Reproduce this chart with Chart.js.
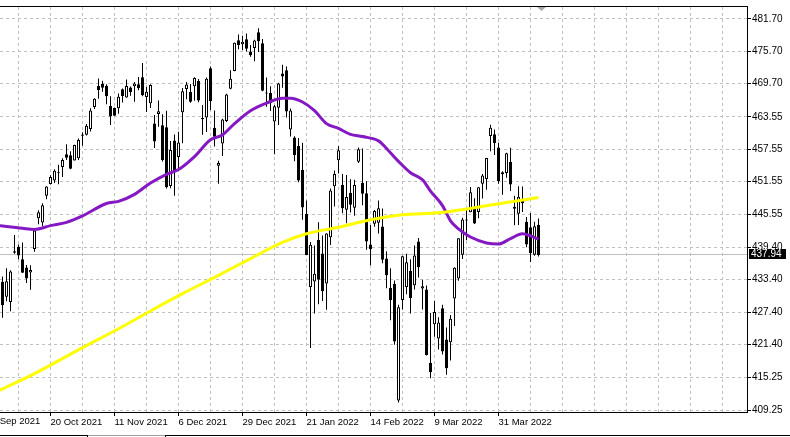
<!DOCTYPE html>
<html>
<head>
<meta charset="utf-8">
<script src="https://cdn.jsdelivr.net/npm/chart.js@4.4.1/dist/chart.umd.min.js"></script>
<style>
  html, body { margin: 0; padding: 0; background: #fff; }
  #wrap { width: 790px; height: 437px; }
</style>
</head>
<body>
<div id="wrap"><canvas id="myChart" width="790" height="437"></canvas></div>
<script>
// daily bars, 4 Oct 2021 .. 14 Apr 2022 (bar index 0..134)
var opens = [433.00,430.24,429.27,438.39,439.48,437.16,435.67,434.71,439.08,444.75,
  443.97,448.92,451.13,451.77,453.13,454.28,456.60,456.45,455.46,455.87,
  460.30,460.22,461.30,465.36,469.28,469.70,469.32,465.58,465.21,465.12,
  468.64,467.15,469.00,469.24,469.61,470.89,467.22,466.06,462.34,464.07,
  462.00,461.64,450.73,459.17,456.13,464.41,468.70,468.15,469.23,470.19,
  463.09,463.42,472.57,461.55,454.48,458.61,462.79,468.75,472.06,477.72,
  476.98,477.93,475.64,476.30,479.22,477.16,467.89,467.95,462.70,465.23,
  471.59,472.19,461.19,459.74,458.13,453.75,445.56,432.03,433.06,440.72,
  438.26,432.68,441.24,450.68,455.50,450.95,446.35,449.51,446.73,455.22,
  451.34,449.41,439.92,443.73,443.93,443.22,437.33,431.89,432.66,411.02,
  429.61,432.03,435.04,432.37,440.47,431.75,431.55,418.00,425.14,422.52,
  428.12,422.30,421.80,429.89,433.59,438.00,444.34,445.86,446.91,445.94,
  451.16,452.06,460.02,460.34,457.89,453.31,453.13,455.22,446.89,445.59,
  447.97,444.11,443.08,438.03,443.55];
var highs = [433.96,435.49,435.12,441.68,439.89,440.26,436.10,436.05,442.66,446.26,
  447.55,450.71,452.73,453.83,454.67,455.90,458.49,457.16,458.40,459.56,
  460.70,462.23,465.15,467.00,470.65,470.23,469.57,467.38,465.29,467.86,
  468.81,470.49,469.19,470.01,470.94,473.54,469.10,469.57,463.90,466.56,
  464.03,464.67,459.07,460.30,460.79,468.88,470.00,469.63,470.90,470.56,
  465.74,470.86,472.87,464.74,455.40,463.21,467.81,472.19,477.31,478.81,
  478.56,479.00,476.86,477.85,479.98,477.98,470.82,469.20,465.74,469.85,
  473.20,472.88,465.09,459.96,459.61,458.74,448.06,440.38,439.72,444.04,
  441.59,442.00,450.28,453.63,458.12,452.97,452.78,451.99,451.92,457.88,
  457.71,451.61,443.50,446.28,448.06,446.57,438.66,435.50,433.26,428.76,
  437.84,438.20,437.17,439.72,441.11,433.37,432.30,427.21,429.51,426.43,
  428.77,424.55,426.84,435.68,441.07,444.86,446.46,450.58,448.49,450.50,
  452.98,455.91,462.07,461.20,458.76,453.46,456.91,457.83,448.93,450.69,
  450.63,445.00,445.75,444.11,444.73];
var lows = [426.36,429.39,427.54,438.20,437.19,434.62,432.78,431.54,438.58,443.66,
  443.27,448.27,451.01,451.31,451.05,452.39,455.56,453.86,455.45,455.56,
  458.20,460.08,460.83,464.99,466.92,468.20,465.88,462.04,463.75,464.11,
  466.23,467.07,467.48,466.34,468.50,467.35,464.45,465.19,457.77,461.73,
  455.30,450.29,450.31,448.92,453.56,458.65,466.83,466.14,466.51,466.27,
  460.25,460.74,464.80,458.06,451.14,456.31,462.58,468.64,472.01,476.06,
  475.92,475.67,474.67,473.85,475.58,468.28,465.43,464.65,456.60,462.05,
  468.94,463.44,459.90,455.31,451.46,444.50,437.95,420.76,427.15,428.86,
  429.45,427.82,439.81,446.94,453.05,445.71,443.83,445.85,445.22,455.00,
  447.20,438.94,436.07,443.18,441.94,436.42,431.82,425.86,421.35,410.64,
  427.86,430.70,427.11,431.57,433.80,427.88,419.36,415.12,422.82,420.44,
  419.53,415.79,418.42,424.80,433.19,437.22,440.68,445.86,443.71,444.76,
  448.43,450.06,457.18,456.47,451.16,449.14,452.26,449.82,443.47,443.53,
  445.94,439.39,436.65,437.84,437.68];
var closes = [428.64,433.10,434.90,438.66,437.86,434.69,433.62,435.18,442.50,445.87,
  447.19,450.64,452.41,453.59,453.12,455.55,455.96,453.94,458.32,459.25,
  460.04,461.90,464.72,466.91,468.53,468.93,467.38,463.62,463.77,467.27,
  467.43,469.28,468.14,469.73,468.89,467.57,468.19,469.44,458.97,464.60,
  455.56,450.50,457.40,453.42,458.79,468.28,469.52,466.35,470.74,466.57,
  463.36,470.60,466.45,459.87,454.98,463.06,467.69,470.60,477.26,476.87,
  477.48,476.16,474.96,477.71,477.55,468.38,467.94,466.09,465.51,469.75,
  471.02,464.53,464.72,456.49,451.75,446.75,437.98,439.84,434.47,433.38,
  431.24,441.95,449.91,452.95,457.35,446.60,448.70,447.26,450.94,457.54,
  449.32,440.46,439.02,446.10,446.60,437.06,434.23,429.57,421.95,428.30,
  437.75,436.63,429.98,437.89,435.71,432.17,419.43,416.25,427.41,425.48,
  420.07,417.00,426.17,435.62,441.07,444.52,444.39,449.59,443.80,450.49,
  452.69,455.91,461.55,458.70,451.64,452.92,456.80,451.03,446.52,448.77,
  447.57,439.92,438.29,443.31,437.94];

// date labels on the time axis (bar index where each label sits)
var xTickBars = [-4, 12, 28, 44, 60, 76, 92, 108, 124];
var xTickLabels = ['28 Sep 2021', '20 Oct 2021', '11 Nov 2021', '6 Dec 2021', '29 Dec 2021',
  '21 Jan 2022', '14 Feb 2022', '9 Mar 2022', '31 Mar 2022'];
var yTickLabels = ['481.70', '475.70', '469.70', '463.55', '457.55', '451.55', '445.55',
  '439.40', '433.40', '427.40', '421.40', '415.25', '409.25'];

// moving averages
var fastBars = [-1, 5, 8, 12, 16, 20, 26, 29, 33, 37, 41, 44, 48, 52, 55, 58, 62, 66, 70, 72,
  75, 78, 81, 84, 87, 90, 94, 96, 99, 102, 105, 107, 110, 112, 114, 117, 121, 124, 127, 130, 132, 134];
var fastVals = [443.4, 442.9, 442.7, 443.4, 444.0, 445.2, 447.5, 447.9, 449.2, 451.3, 452.9, 453.8,
  456.2, 459.3, 460.2, 462.3, 464.7, 466.1, 467.0, 467.0, 466.3, 464.7, 462.3, 461.4, 460.3, 459.9,
  459.1, 457.7, 455.3, 453.2, 451.9, 449.8, 447.1, 444.3, 442.8, 441.3, 440.2, 440.0, 441.0, 441.9,
  441.5, 440.9];
var slowBars = [-1, 8, 20, 29, 37, 45, 54, 62, 70, 76, 84, 92, 100, 109, 117, 126, 134];
var slowVals = [412.8, 416.0, 420.8, 424.3, 427.6, 430.8, 434.2, 437.3, 440.3, 441.9, 443.1,
  444.5, 445.4, 445.8, 446.6, 447.7, 448.6];

var lastPrice = 437.94;
var xMin = -0.625, xMax = 186.125;

var wickData = [], bodyData = [], bodyColors = [];
for (var i = 0; i < opens.length; i++) {
  wickData.push({x: i, y: [lows[i], highs[i]]});
  bodyData.push({x: i, y: [opens[i], closes[i]]});
  bodyColors.push(closes[i] >= opens[i] ? '#ffffff' : '#000000');
}
var fastData = fastBars.map(function(b, k) { return {x: b, y: fastVals[k]}; });
var slowData = slowBars.map(function(b, k) { return {x: b, y: slowVals[k]}; });

// vertical grid every 8 bars, only inside the visible range
var gridBars = [];
for (var g = 4; g <= xMax; g += 8) gridBars.push(g);

var mtExtras = {
  id: 'mtExtras',
  beforeDatasetsDraw: function(chart) {
    var ctx = chart.ctx, a = chart.chartArea;
    var py = Math.round(chart.scales.y.getPixelForValue(lastPrice)) - 0.5;
    ctx.save();
    ctx.strokeStyle = '#c0c0c0';
    ctx.lineWidth = 1;
    ctx.beginPath();
    ctx.moveTo(a.left, py);
    ctx.lineTo(a.right, py);
    ctx.stroke();
    ctx.restore();
  },
  afterDraw: function(chart) {
    var ctx = chart.ctx, a = chart.chartArea, xs = chart.scales.x;
    var py = Math.round(chart.scales.y.getPixelForValue(lastPrice)) - 1;
    ctx.save();
    // frame top
    ctx.fillStyle = '#000';
    ctx.fillRect(a.left, a.top - 1, a.right - a.left + 1, 1);
    // date labels whose tick lies left of the visible range (cut at the edge)
    ctx.font = '9.5px "Liberation Sans"';
    ctx.textBaseline = 'top';
    ctx.textAlign = 'left';
    xTickBars.forEach(function(b, k) {
      if (b < xMin) ctx.fillText(xTickLabels[k], xs.getPixelForValue(b), a.bottom + 5);
    });
    // last price label
    ctx.fillRect(a.right + 2, py - 5, 37, 10);
    ctx.fillStyle = '#fff';
    ctx.font = '10px "Liberation Sans"';
    ctx.textBaseline = 'middle';
    ctx.fillText(lastPrice.toFixed(2), a.right + 4, py + 0.5);
    // chart shift marker
    ctx.fillStyle = '#a8a8a8';
    ctx.beginPath();
    ctx.moveTo(537, a.top);
    ctx.lineTo(546, a.top);
    ctx.lineTo(541.5, a.top + 4);
    ctx.closePath();
    ctx.fill();
    // tab strip at the bottom
    ctx.fillStyle = '#000';
    ctx.fillRect(0, 435, 87, 1);
    ctx.fillRect(87, 435, 1, 2);
    ctx.fillRect(165, 435, 625, 1);
    ctx.fillRect(165, 435, 1, 2);
    ctx.fillStyle = '#a0a0a0';
    ctx.fillRect(88, 435, 77, 1);
    ctx.restore();
  }
};

var ctx = document.getElementById('myChart').getContext('2d');
var config = {
  data: {
    datasets: [{
      type: 'line',
      data: slowData,
      borderColor: '#ffff00',
      borderWidth: 3,
      pointRadius: 0,
      cubicInterpolationMode: 'monotone',
      fill: false,
      order: 0
    }, {
      type: 'line',
      data: fastData,
      borderColor: '#8418c2',
      borderWidth: 3,
      pointRadius: 0,
      cubicInterpolationMode: 'monotone',
      fill: false,
      order: 1
    }, {
      type: 'bar',
      data: bodyData,
      backgroundColor: bodyColors,
      borderColor: '#000000',
      borderWidth: 1,
      borderSkipped: false,
      barThickness: 3,
      minBarLength: 1,
      inflateAmount: 0,
      grouped: false,
      order: 2
    }, {
      type: 'bar',
      data: wickData,
      backgroundColor: '#000000',
      borderWidth: 0,
      barThickness: 1,
      inflateAmount: 0,
      grouped: false,
      order: 3
    }]
  },
  options: {
    responsive: false,
    animation: false,
    devicePixelRatio: 1,
    events: [],
    layout: { padding: { top: 2, left: 0, right: 0, bottom: 0 }, autoPadding: false },
    plugins: { legend: { display: false }, tooltip: { enabled: false } },
    scales: {
      x: {
        type: 'linear',
        offset: false,
        min: xMin,
        max: xMax,
        bounds: 'data',
        afterBuildTicks: function(scale) {
          scale.ticks = gridBars.map(function(v) { return {value: v}; });
        },
        afterFit: function(scale) { scale.height = 25; },
        ticks: {
          autoSkip: false,
          maxRotation: 0,
          align: 'start',
          padding: 1,
          color: '#000',
          font: { family: 'Liberation Sans', size: 9.5 },
          callback: function(value) {
            var k = xTickBars.indexOf(value);
            return k >= 0 ? xTickLabels[k] : '';
          }
        },
        grid: {
          offset: false,
          color: '#c0c0c0',
          lineWidth: 1,
          tickLength: 4,
          tickColor: function(c) {
            return c.tick && xTickBars.indexOf(c.tick.value) >= 0 ? '#000' : 'rgba(0,0,0,0)';
          }
        },
        border: { display: true, color: '#000', width: 1, dash: [3, 3] }
      },
      y: {
        type: 'linear',
        position: 'right',
        min: 408.884,
        max: 483.896,
        bounds: 'data',
        afterBuildTicks: function(scale) {
          scale.ticks = yTickLabels.map(function(s) { return {value: parseFloat(s)}; });
        },
        afterFit: function(scale) { scale.width = 43; },
        ticks: {
          padding: 1,
          color: '#000',
          font: { family: 'Liberation Sans', size: 10 },
          callback: function(value) { return value.toFixed(2); }
        },
        grid: { color: '#c0c0c0', lineWidth: 1, tickLength: 4, tickColor: '#000' },
        border: { display: true, color: '#000', width: 1, dash: [3, 3] }
      }
    }
  },
  plugins: [mtExtras]
};
var myChart = new Chart(ctx, config);
</script>
</body>
</html>
